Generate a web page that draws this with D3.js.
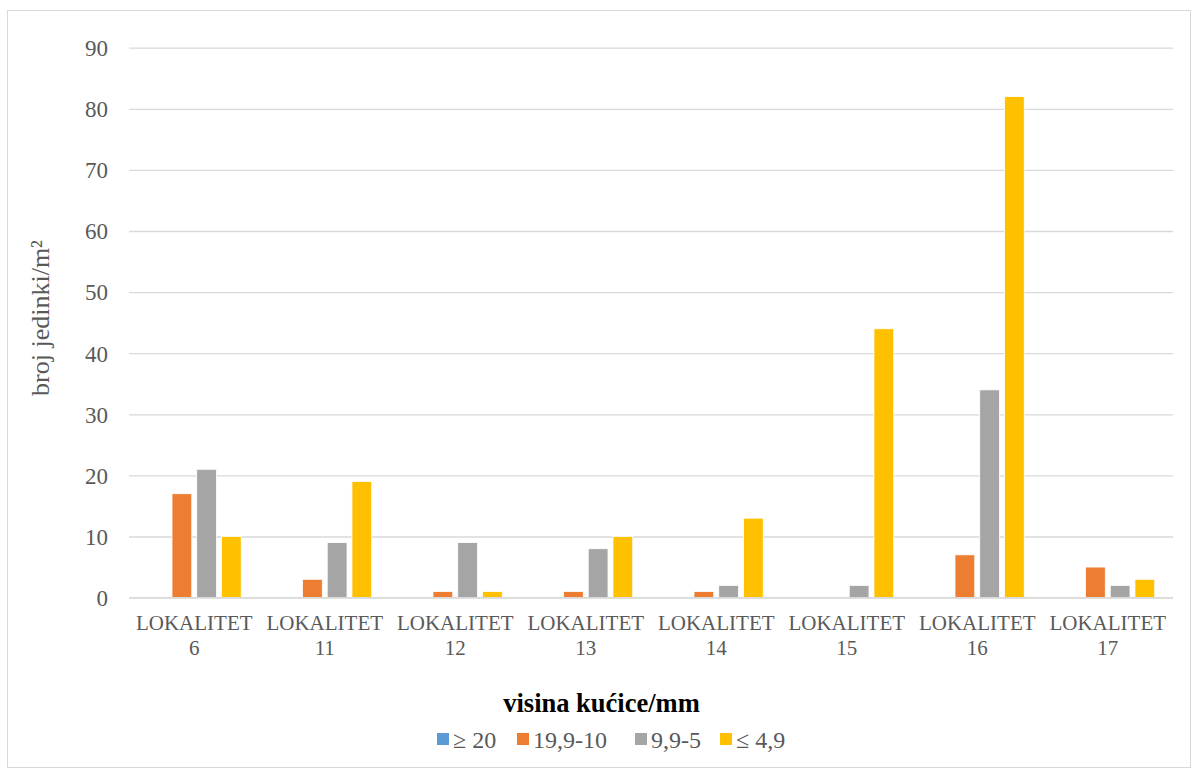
<!DOCTYPE html>
<html>
<head>
<meta charset="utf-8">
<script src="https://cdn.jsdelivr.net/npm/d3@7"></script>
<style>
  html, body { margin: 0; padding: 0; background: #fff; }
  svg { display: block; }
  svg text { font-family: "Liberation Serif", "Times New Roman", Tinos, "DejaVu Serif", serif; }
</style>
</head>
<body>
<svg id="chart" width="1198" height="769"></svg>
<script>
const categories = ["LOKALITET 6", "LOKALITET 11", "LOKALITET 12", "LOKALITET 13", "LOKALITET 14", "LOKALITET 15", "LOKALITET 16", "LOKALITET 17"];
const seriesNames = ["≥ 20", "19,9-10", "9,9-5", "≤ 4,9"];
const s_ge20 = [0, 0, 0, 0, 0, 0, 0, 0];
const s_19_10 = [17, 3, 1, 1, 1, 0, 7, 5];
const s_9_5 = [21, 9, 9, 8, 2, 2, 34, 2];
const s_le4 = [10, 19, 1, 10, 13, 44, 82, 3];
const yTicks = [0, 10, 20, 30, 40, 50, 60, 70, 80, 90];
const colors = ["#5B9BD5", "#ED7D31", "#A5A5A5", "#FFC000"];
const yTitle = "broj jedinki/m²";
const legendTitle = "visina kućice/mm";

const seriesValues = [s_ge20, s_19_10, s_9_5, s_le4];
const FONT = "'Liberation Serif', 'Times New Roman', Tinos, 'DejaVu Serif', serif";

const svg = d3.select("#chart");
const plot = { left: 129, right: 1173, top: 47.7, bottom: 597.6 };

svg.append("rect").attr("x", 7.5).attr("y", 10.5).attr("width", 1183).attr("height", 757)
  .attr("fill", "#fff").attr("stroke", "#d9d9d9").attr("stroke-width", 1);

const x0 = d3.scaleBand().domain(categories).range([plot.left, plot.right])
  .paddingInner(0.28).paddingOuter(0.14);
const x1 = d3.scaleBand().domain(d3.range(seriesNames.length)).range([0, x0.bandwidth()])
  .paddingInner(0.2).paddingOuter(0);
const y = d3.scaleLinear().domain([0, 90]).range([plot.bottom, plot.top]);

const yAxis = d3.axisLeft(y).tickValues(yTicks).tickSize(-(plot.right - plot.left)).tickPadding(21);
const ga = svg.append("g").attr("transform", `translate(${plot.left},0)`).call(yAxis)
  .attr("font-family", FONT);
ga.select(".domain").remove();
ga.selectAll(".tick line").attr("stroke", "#d9d9d9").attr("stroke-width", 1.3);
ga.selectAll(".tick text").attr("fill", "#595959").attr("font-family", FONT).attr("font-size", 23)
  .attr("dy", "0.34em");

const groups = svg.append("g").selectAll("g").data(categories).join("g")
  .attr("transform", d => `translate(${x0(d)},0)`);
groups.selectAll("rect").data((d, i) => seriesValues.map((s, k) => ({ k, v: s[i] })))
  .join("rect")
  .attr("x", d => x1(d.k))
  .attr("width", x1.bandwidth())
  .attr("y", d => y(d.v))
  .attr("height", d => y(0) - y(d.v))
  .attr("fill", d => colors[d.k])
  .attr("stroke", "#fff").attr("stroke-width", 0.8);

svg.append("line").attr("x1", plot.left).attr("x2", plot.right)
  .attr("y1", y(0)).attr("y2", y(0)).attr("stroke", "#d9d9d9").attr("stroke-width", 1.3);

const xl = svg.append("g").selectAll("text").data(categories).join("text")
  .attr("x", d => x0(d) + x0.bandwidth() / 2)
  .attr("y", 630)
  .attr("text-anchor", "middle")
  .attr("font-family", FONT)
  .attr("fill", "#595959").attr("font-size", 21);
xl.each(function(d) {
  const parts = d.split(" ");
  const t = d3.select(this);
  t.append("tspan").attr("x", x0(d) + x0.bandwidth() / 2).attr("dy", 0).text(parts[0]);
  t.append("tspan").attr("x", x0(d) + x0.bandwidth() / 2).attr("dy", 25).text(parts[1]);
});

svg.append("text")
  .attr("transform", `translate(49,318) rotate(-90)`)
  .attr("text-anchor", "middle").attr("fill", "#595959").attr("font-size", 26)
  .attr("font-family", FONT)
  .text(yTitle);

svg.append("text").attr("x", 601.5).attr("y", 712).attr("text-anchor", "middle")
  .attr("fill", "#000").attr("font-size", 26.5).attr("font-weight", "bold")
  .attr("font-family", FONT)
  .text(legendTitle);

const legendX = [437, 517, 635, 720];
const lg = svg.append("g").selectAll("g").data(seriesNames).join("g")
  .attr("transform", (d, i) => `translate(${legendX[i]},733)`);
lg.append("rect").attr("x", 0).attr("y", 0).attr("width", 12).attr("height", 12)
  .attr("fill", (d, i) => colors[i]);
lg.append("text").attr("x", 16).attr("y", 15).attr("fill", "#595959").attr("font-size", 24)
  .attr("font-family", FONT)
  .text(d => d);
</script>
</body>
</html>
